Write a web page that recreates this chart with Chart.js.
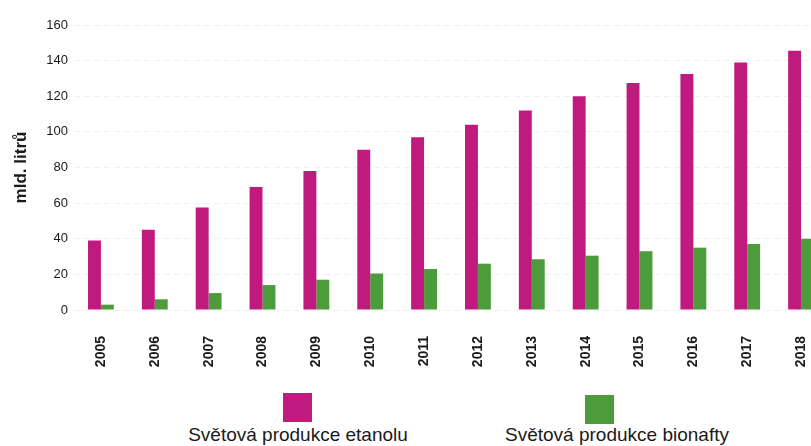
<!DOCTYPE html>
<html>
<head>
<meta charset="utf-8">
<script src="https://cdn.jsdelivr.net/npm/chart.js@4"></script>
<style>
  html, body { margin: 0; padding: 0; background: #fff; overflow: hidden; }
  #wrap { position: relative; width: 811px; height: 446px; overflow: hidden; }
  #box { position: absolute; left: 0; top: 0; width: 840px; height: 380px; }
  .lg { position: absolute; font-family: "Liberation Sans", Arial, sans-serif; font-size: 19px; color: #1a1a1a; white-space: nowrap; }
  .sw { position: absolute; width: 29px; height: 29px; }
</style>
</head>
<body>
<div id="wrap">
  <div id="box"><canvas id="c" width="840" height="380"></canvas></div>
  <div id="legend"></div>
</div>
<script>
const categories = ['2005','2006','2007','2008','2009','2010','2011','2012','2013','2014','2015','2016','2017','2018'];
const seriesNames = ['Světová produkce etanolu', 'Světová produkce bionafty'];
const ethanol = [39, 45, 57.5, 69, 78, 90, 97, 104, 112, 120, 127.5, 132.5, 139, 145.5];
const biodiesel = [3, 6, 9.5, 14, 17, 20.5, 23, 26, 28.5, 30.5, 33, 35, 37, 40];
const yTicks = [0, 20, 40, 60, 80, 100, 120, 140, 160];
const yTitle = 'mld. litrů';
const colors = ['#c01a7f', '#4d9c3b'];

const font = "'Liberation Sans', Arial, sans-serif";

const chart = new Chart(document.getElementById('c'), {
  type: 'bar',
  data: {
    labels: categories,
    datasets: [
      { label: seriesNames[0], data: ethanol, backgroundColor: colors[0] },
      { label: seriesNames[1], data: biodiesel, backgroundColor: colors[1] }
    ]
  },
  options: {
    responsive: false,
    animation: false,
    events: [],
    layout: { padding: { top: 25, right: 12, left: 0, bottom: 0 } },
    datasets: { bar: { categoryPercentage: 0.48, barPercentage: 1.0 } },
    plugins: { legend: { display: false }, tooltip: { enabled: false } },
    scales: {
      x: {
        grid: { display: false },
        border: { display: false },
        ticks: {
          color: '#1a1a1a',
          font: { family: font, size: 14, weight: '600' },
          minRotation: 90, maxRotation: 90,
          padding: 18,
          autoSkip: false
        },
        afterFit: s => { s.height = 70; }
      },
      y: {
        min: 0, max: 160,
        afterBuildTicks: s => { s.ticks = yTicks.map(v => ({ value: v })); },
        grid: { color: 'rgba(0,0,0,0.06)', drawTicks: false },
        border: { display: false, dash: [6, 4] },
        ticks: {
          color: '#1a1a1a',
          font: { family: font, size: 13 },
          padding: 6
        },
        title: {
          display: true,
          text: yTitle,
          color: '#1a1a1a',
          font: { family: font, size: 17, weight: 'bold' },
          padding: { top: 11, bottom: 0 }
        },
        afterFit: s => { s.width = 74; }
      }
    }
  }
});

// HTML legend (swatch above text), built from the chart datasets
const legendPos = [
  { box: [283, 393], text: 298 },
  { box: [585, 395], text: 617 }
];
const lg = document.getElementById('legend');
chart.data.datasets.forEach((ds, i) => {
  const sw = document.createElement('div');
  sw.className = 'sw';
  sw.style.left = legendPos[i].box[0] + 'px';
  sw.style.top = legendPos[i].box[1] + 'px';
  sw.style.background = ds.backgroundColor;
  lg.appendChild(sw);
  const t = document.createElement('div');
  t.className = 'lg';
  t.textContent = ds.label;
  t.style.top = '424px';
  t.style.left = legendPos[i].text + 'px';
  t.style.transform = 'translateX(-50%)';
  lg.appendChild(t);
});
</script>
</body>
</html>
